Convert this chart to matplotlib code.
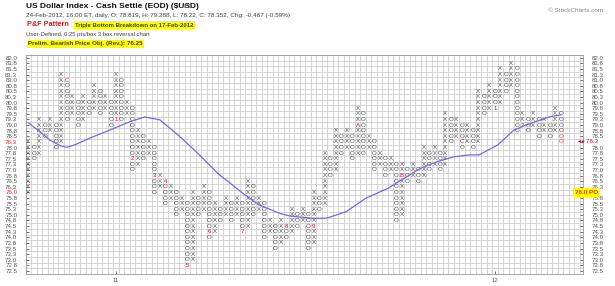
import math
import matplotlib
matplotlib.use('Agg')
import matplotlib.pyplot as plt
import matplotlib.transforms as mtransforms

plt.rcParams['font.family'] = ['Liberation Sans', 'DejaVu Sans']

BOX = 0.25
price_levels = [72.5 + BOX * i for i in range(39)]

# P&F columns (first column is X, then alternating), lowest and highest box
col_low = [76.0, 77.5, 77.75, 78.5, 78.75, 78.0, 78.25, 79.25, 79.5, 79.0,
           79.25, 79.5, 79.75, 79.5, 79.75, 79.0, 79.25, 79.25, 79.5, 77.0,
           77.25, 77.5, 77.75, 76.0, 76.25, 75.5, 75.75, 75.0, 75.25, 72.75,
           73.0, 75.0, 75.25, 74.0, 74.25, 74.75, 75.0, 74.75, 75.0, 74.25,
           74.5, 75.0, 75.25, 74.0, 74.25, 73.5, 73.75, 74.0, 74.25, 74.5,
           74.75, 73.5, 73.75, 75.25, 75.5, 76.75, 77.0, 77.75, 78.0, 77.5,
           77.75, 77.75, 78.0, 77.0, 77.25, 76.75, 77.0, 74.75, 75.0, 76.5,
           76.75, 76.5, 76.75, 77.0, 77.25, 77.0, 77.25, 78.25, 78.5, 78.0,
           78.25, 78.0, 78.25, 79.5, 79.75, 79.75, 80.0, 80.5, 80.75, 78.75,
           79.0, 78.75, 79.0, 78.5, 78.75, 78.5, 78.75, 78.25]
col_high = [78.25, 78.0, 79.25, 79.0, 79.25, 79.0, 81.25, 81.0, 80.25, 80.0,
            80.25, 80.0, 80.75, 80.5, 80.25, 80.0, 81.25, 81.0, 80.0, 79.75,
            78.75, 78.5, 78.25, 78.0, 76.75, 76.5, 76.25, 76.0, 75.75, 75.5,
            76.0, 75.75, 76.25, 76.0, 75.5, 75.25, 75.75, 75.5, 75.75, 75.5,
            76.5, 76.25, 75.75, 75.5, 74.75, 74.5, 74.75, 74.5, 75.25, 75.0,
            75.25, 75.0, 76.0, 75.75, 77.75, 77.5, 78.75, 78.5, 78.75, 78.5,
            79.75, 79.5, 78.5, 78.25, 77.75, 77.5, 77.5, 77.25, 77.25, 77.0,
            77.25, 77.0, 78.0, 77.75, 78.0, 77.75, 79.5, 79.25, 79.25, 79.0,
            79.0, 78.75, 80.5, 80.25, 80.75, 80.5, 81.5, 81.25, 81.75, 81.5,
            79.5, 79.25, 79.5, 79.25, 79.25, 79.0, 79.75, 79.5]

# month markers: column, price, label
mark_cols = [7, 16, 19, 23, 25, 29, 33, 39, 47, 52, 60, 68, 79, 85, 90]
mark_prices = [81.0, 79.25, 77.5, 76.75, 76.5, 72.75, 74.25, 74.25, 74.5,
               74.5, 79.0, 76.75, 78.25, 79.75, 79.0]
mark_labels = ['C', '1', '2', '3', '4', '5', '6', '7', '8', '9', 'A', 'B',
               'C', '1', '2']

# latest boxes (red)
new_cols = [97, 97]
new_prices = [78.25, 78.5]

# moving average
ma_cols = [0, 2.1, 3.9, 5.8, 7, 8.5, 11.2, 14.9, 18.5, 21.2, 24, 27.6, 31.2,
           34.5, 39.1, 42.1, 45.8, 47.6, 51.8, 54.3, 57.9, 61.5, 65.5, 68.5,
           71.5, 74.5, 77.6, 80.3, 82.1, 85.5, 88.5, 91.5, 95.2, 97]
ma_vals = [79.11, 78.70, 78.34, 78.08, 78.01, 78.12, 78.42, 78.78, 79.15,
           79.36, 79.23, 78.49, 77.67, 76.85, 75.96, 75.44, 75.07, 74.95,
           74.85, 74.85, 75.14, 75.74, 76.18, 76.63, 77.08, 77.37, 77.59,
           77.67, 77.67, 78.11, 78.78, 79.08, 79.38, 79.45]

year_cols = [16, 85]
year_labels = ['11', '12']

last_price = 78.25
target_price = 76.0


def fmt(p):
    return '%.1f' % (math.floor(p * 10 + 0.5) / 10)


W, H = 615, 286
fig = plt.figure(figsize=(W / 100, H / 100), dpi=100)
ax = fig.add_axes([25.56 / W, 1 - 273.8 / H, 557.44 / W, 218.9 / H])
ax.set_xlim(-0.5, 101.07)
ax.set_ylim(72.375, 82.125)

# grid
for c in range(102):
    ax.axvline(c - 0.5, color='#cfcfcf', lw=0.6, zorder=0)
for p in price_levels + [82.25]:
    ax.axhline(p - BOX / 2, color='#cfcfcf', lw=0.6, zorder=0)

# boxes
marks = {(c, p): t for c, p, t in zip(mark_cols, mark_prices, mark_labels)}
news = set(zip(new_cols, new_prices))
for i, (lo, hi) in enumerate(zip(col_low, col_high)):
    sym = 'X' if i % 2 == 0 else 'O'
    n = int(round((hi - lo) / BOX)) + 1
    for k in range(n):
        p = lo + k * BOX
        txt, col = sym, '#4a4a4a'
        if (i, p) in marks:
            txt, col = marks[(i, p)], '#d8003a'
        elif (i, p) in news:
            col = '#ff2a2a'
        ax.text(i, p, txt, ha='center', va='center', fontsize=4.4,
                color=col, zorder=3)

ax.plot(ma_cols, ma_vals, color='#7866e6', lw=0.9, zorder=4)

# axes styling
for s in ax.spines.values():
    s.set_color('#9a9a9a')
    s.set_linewidth(0.6)
ax.set_yticks(price_levels)
ax.set_yticklabels([fmt(p) for p in price_levels])
ax.tick_params(axis='y', direction='in', length=2.5, width=0.6,
               colors='#555555', labelsize=4.4, left=True, right=True,
               labelleft=True, labelright=True, pad=6)
ax.set_xticks(year_cols)
ax.set_xticklabels(year_labels)
ax.tick_params(axis='x', direction='in', length=2, width=0.6,
               colors='#555555', labelsize=4.4, pad=3)

ticks = ax.yaxis.get_major_ticks()
for t, p in zip(ticks, price_levels):
    t.label2.set_horizontalalignment('left')
    if abs(p - last_price) < 1e-6 or abs(p - target_price) < 1e-6:
        t.label1.set_color('#ff2020')
        t.label2.set_visible(False)

trans = mtransforms.blended_transform_factory(ax.transAxes, ax.transData)
ax.text((578 - 25.56) / 557.44, last_price, '\u25c2\u25c2 ' + fmt(last_price),
        transform=trans, ha='left', va='center', fontsize=4.4,
        color='#e0003a', clip_on=False)
ax.text((575 - 25.56) / 557.44, target_price, fmt(target_price) + ' PO',
        transform=trans, ha='left', va='center', fontsize=4.6,
        color='#ff3300', fontweight='bold', clip_on=False,
        bbox=dict(facecolor='#ffff00', edgecolor='none', pad=1.2))


# header
def ftxt(x, y, s, **kw):
    fig.text(x / W, 1 - y / H, s, va='center', ha='left', **kw)


ftxt(26, 6, 'US Dollar Index - Cash Settle (EOD) ($USD)', fontsize=6.0,
     fontweight='bold', color='#111111')
ftxt(183, 6.5, 'ICE', fontsize=4.2, color='#777777')
ftxt(26, 15.7, '24-Feb-2012, 16:00 ET, daily, O: 78.819, H: 79.288, '
     'L: 78.22, C: 78.352, Chg: -0.467 (-0.59%)', fontsize=4.6,
     color='#444444')
ftxt(27, 25, 'P&F Pattern', fontsize=5.2, fontweight='bold', color='#ee1111')
ftxt(75, 25, 'Triple Bottom Breakdown on 17-Feb-2012', fontsize=4.3,
     fontweight='bold', color='#444400',
     bbox=dict(facecolor='#ffff00', edgecolor='none', pad=1.0))
ftxt(26, 34.3, 'User-Defined, 0.25 pts/box 3 box reversal chart',
     fontsize=4.2, color='#444444')
ftxt(28, 43.7, 'Prelim. Bearish Price Obj. (Rev.): 76.25', fontsize=4.5,
     fontweight='bold', color='#444400',
     bbox=dict(facecolor='#ffff00', edgecolor='none', pad=1.0))
ftxt(548, 10, '\u00a9 StockCharts.com', fontsize=4.6, color='#888888')

fig.savefig('out.png', dpi=100)
